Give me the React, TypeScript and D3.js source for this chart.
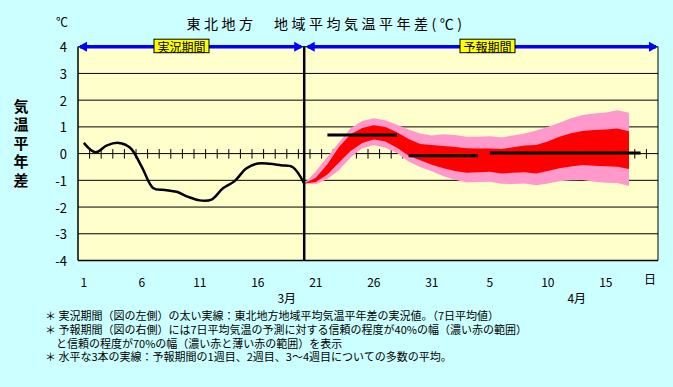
import React from "react";
import * as d3 from "d3";

// 3月1日〜4月19日
const dayNums = [
  1, 2, 3, 4, 5, 6, 7, 8, 9, 10, 11, 12, 13, 14, 15, 16, 17, 18, 19, 20, 21, 22, 23, 24, 25, 26, 27, 28, 29, 30, 31,
  1, 2, 3, 4, 5, 6, 7, 8, 9, 10, 11, 12, 13, 14, 15, 16, 17, 18, 19,
];
const labelIdx = [0, 5, 10, 15, 20, 25, 30, 35, 40, 45];
const monthLabels = ["3月", "4月"];
const monthIdx = [17.5, 42.5];
const yTicks = [-4, -3, -2, -1, 0, 1, 2, 3, 4];

// 実況 (7日平均)
const observed = [
  0.4, 0.05, 0.31, 0.4, 0.22, -0.5, -1.3, -1.36, -1.43, -1.62, -1.75, -1.72, -1.3, -1.03, -0.56, -0.37, -0.38,
  -0.44, -0.5, -1.12,
];

// 予報 (3/20 から)
const fcStart = 19;
const pinkHi = [
  -1.12, -0.66, -0.12, 0.42, 0.95, 1.22, 1.32, 1.25, 1.08, 0.9, 0.75, 0.68, 0.72, 0.7, 0.63, 0.63, 0.65, 0.6, 0.68,
  0.75, 0.86, 1.0, 1.15, 1.32, 1.44, 1.5, 1.54, 1.62, 1.53,
];
const redHi = [
  -1.12, -0.9, -0.4, 0.25, 0.72, 0.96, 1.06, 1.0, 0.8, 0.55, 0.36, 0.32, 0.28, 0.25, 0.2, 0.19, 0.19, 0.17, 0.24,
  0.3, 0.32, 0.45, 0.63, 0.76, 0.85, 0.88, 0.9, 0.94, 0.84,
];
const redLo = [
  -1.12, -1.06, -0.78, -0.33, 0.1, 0.4, 0.53, 0.45, 0.22, -0.08, -0.25, -0.42, -0.55, -0.65, -0.72, -0.7, -0.68,
  -0.74, -0.72, -0.7, -0.74, -0.65, -0.55, -0.48, -0.43, -0.45, -0.47, -0.49, -0.58,
];
const pinkLo = [
  -1.12, -1.15, -0.95, -0.62, -0.15, 0.2, 0.32, 0.22, 0.02, -0.3, -0.5, -0.66, -0.85, -0.98, -1.08, -1.06, -1.05,
  -1.13, -1.14, -1.12, -1.18, -1.12, -1.03, -1.0, -0.99, -1.05, -1.09, -1.1, -1.21,
];

// 1週目、2週目、3〜4週目の平均
const weekStart = [21, 28, 35];
const weekEnd = [27, 34, 48];
const weekMean = [0.7, -0.08, 0.02];

const notes = [
  "＊ 実況期間（図の左側）の太い実線：東北地方地域平均気温平年差の実況値。（7日平均値）",
  "＊ 予報期間（図の右側）には7日平均気温の予測に対する信頼の程度が40%の幅（濃い赤の範囲）",
  "　と信頼の程度が70%の幅（濃い赤と薄い赤の範囲）を表示",
  "＊ 水平な3本の実線：予報期間の1週目、2週目、3〜4週目についての多数の平均。",
];

const FONT = "'Noto Sans CJK JP', 'Noto Sans', sans-serif";

export default function App() {
  const W = 673;
  const H = 387;
  const left = 78;
  const right = 658;
  const top = 46.7;
  const bottom = 260.5;

  const x = d3.scaleLinear().domain([-0.5, dayNums.length - 0.5]).range([left, right]);
  const y = d3.scaleLinear().domain([-4, 4]).range([bottom, top]);

  const obsLine = d3
    .line<number>()
    .x((d, i) => x(i))
    .y((d) => y(d))
    .curve(d3.curveCatmullRom);

  const band = (hi: number[], lo: number[]) =>
    d3
      .area<number>()
      .x((d, i) => x(fcStart + i))
      .y0((d, i) => y(lo[i]))
      .y1((d) => y(d))(hi);

  const splitX = x(fcStart);
  const y0 = y(0);

  // 矢印
  const arrow = (x1: number, x2: number, key: string) => {
    const ay = top;
    const hl = 9;
    const hh = 5;
    return (
      <g key={key} fill="#0000ff">
        <line x1={x1 + 2} x2={x2 - 2} y1={ay} y2={ay} stroke="#0000ff" strokeWidth={3.5} />
        <polygon points={`${x1},${ay} ${x1 + hl},${ay - hh} ${x1 + hl},${ay + hh}`} />
        <polygon points={`${x2},${ay} ${x2 - hl},${ay - hh} ${x2 - hl},${ay + hh}`} />
      </g>
    );
  };

  const tag = (cx: number, text: string) => (
    <g key={text}>
      <rect x={cx - 27.5} y={top - 7.5} width={55} height={13.5} fill="#ffff00" stroke="#000" strokeWidth={1} />
      <text x={cx} y={top} textAnchor="middle" dominantBaseline="central" fontSize={12} fill="#000">
        {text}
      </text>
    </g>
  );

  return (
    <svg
      width={W}
      height={H}
      style={{ position: "absolute", left: 0, top: 0, fontFamily: FONT }}
    >
      <rect width={W} height={H} fill="#ccffff" />
      <rect x={left} y={top} width={right - left} height={bottom - top} fill="#ffffcc" />

      {/* grid */}
      {yTicks
        .filter((t) => t !== 0 && t !== -4)
        .map((t) => (
          <line key={t} x1={left} x2={right} y1={y(t)} y2={y(t)} stroke="#000" strokeWidth={1} />
        ))}

      {/* zero axis with ticks */}
      <line x1={left} x2={right} y1={y0} y2={y0} stroke="#000" strokeWidth={1} />
      {d3.range(1, dayNums.length).map((k) => (
        <line key={k} x1={x(k - 0.5)} x2={x(k - 0.5)} y1={y0 - 4.5} y2={y0 + 5} stroke="#000" strokeWidth={1} />
      ))}

      {/* forecast bands */}
      <path d={band(pinkHi, pinkLo) || ""} fill="#ff99cc" />
      <path d={band(redHi, redLo) || ""} fill="#ff0000" />

      {/* borders */}
      <line x1={left} x2={left} y1={top} y2={bottom} stroke="#000" strokeWidth={1.5} />
      <line x1={right} x2={right} y1={top} y2={bottom} stroke="#000" strokeWidth={1} />
      <line x1={left} x2={right} y1={bottom} y2={bottom} stroke="#000" strokeWidth={1.5} />
      <line x1={splitX} x2={splitX} y1={top} y2={bottom} stroke="#000" strokeWidth={2.5} />

      {/* observed */}
      <path d={obsLine(observed) || ""} fill="none" stroke="#000" strokeWidth={2.5} strokeLinejoin="round" />

      {/* weekly means */}
      {weekMean.map((m, k) => (
        <line
          key={k}
          x1={x(weekStart[k])}
          x2={x(weekEnd[k])}
          y1={y(m)}
          y2={y(m)}
          stroke="#000"
          strokeWidth={3}
        />
      ))}

      {/* period arrows */}
      {arrow(left, splitX - 1, "obs")}
      {arrow(splitX + 1.5, right, "fc")}
      {tag(181.5, "実況期間")}
      {tag(487.5, "予報期間")}

      {/* y axis labels */}
      {yTicks.map((t) => (
        <text key={t} x={67} y={y(t)} textAnchor="end" dominantBaseline="central" fontSize={13} fill="#000">
          {t < 0 ? `-${-t}` : t}
        </text>
      ))}
      <text x={62} y={21} textAnchor="middle" dominantBaseline="central" fontSize={12} fill="#000">
        ℃
      </text>
      {"気温平年差".split("").map((c, k) => (
        <text
          key={k}
          x={21}
          y={105 + k * 18.6}
          textAnchor="middle"
          dominantBaseline="central"
          fontSize={15}
          fontWeight="bold"
          fill="#000"
        >
          {c}
        </text>
      ))}

      {/* title */}
      <text
        x={326}
        y={23}
        textAnchor="middle"
        dominantBaseline="central"
        fontSize={14}
        letterSpacing={3.5}
        fill="#000"
      >
        東北地方　地域平均気温平年差(℃)
      </text>

      {/* x labels */}
      {labelIdx.map((i) => (
        <text key={i} x={x(i)} y={281} textAnchor="middle" dominantBaseline="central" fontSize={12} fill="#000">
          {dayNums[i]}
        </text>
      ))}
      <text x={650} y={278} textAnchor="middle" dominantBaseline="central" fontSize={12} fill="#000">
        日
      </text>
      {monthLabels.map((m, k) => (
        <text
          key={m}
          x={x(monthIdx[k])}
          y={297}
          textAnchor="middle"
          dominantBaseline="central"
          fontSize={12}
          fill="#000"
        >
          {m}
        </text>
      ))}

      {/* notes */}
      {notes.map((n, k) => (
        <text key={k} x={45} y={[315, 329, 342.5, 355.5][k]} dominantBaseline="central" fontSize={11} fill="#000">
          {n}
        </text>
      ))}
    </svg>
  );
}
